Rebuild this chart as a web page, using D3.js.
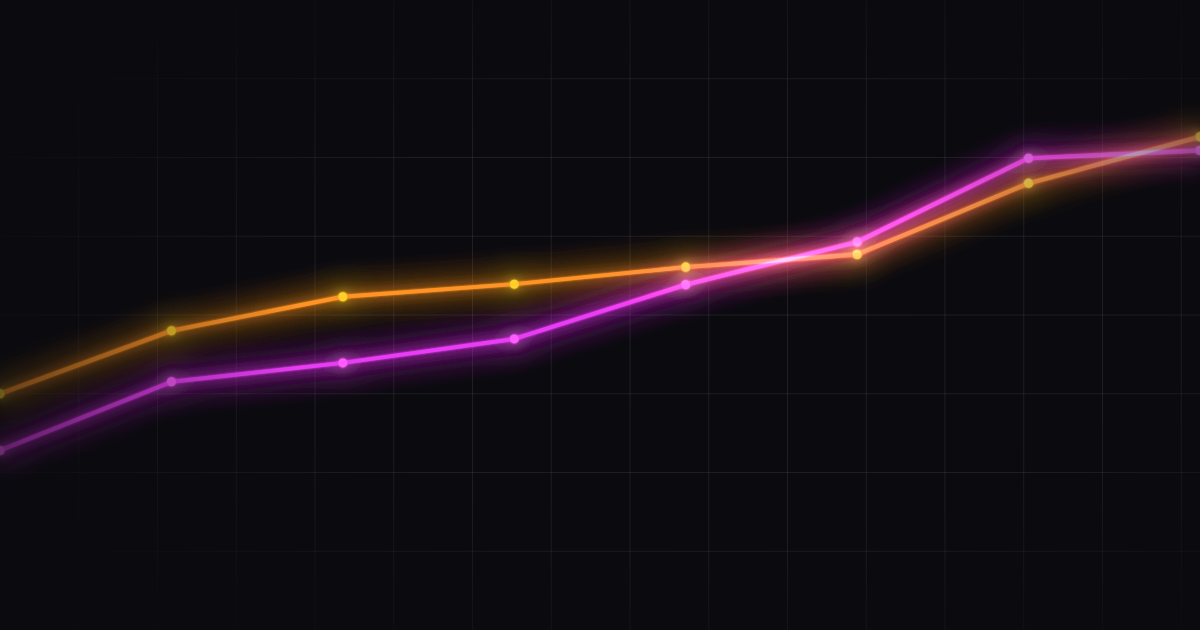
<!DOCTYPE html>
<html>
<head>
<meta charset="utf-8">
<script src="https://cdn.jsdelivr.net/npm/d3@7"></script>
<style>
  html, body { margin: 0; padding: 0; background: #0b0b0f; }
  #chart { width: 1200px; height: 630px; }
  .series { mix-blend-mode: screen; mix-blend-mode: plus-lighter; }
</style>
</head>
<body>
<div id="chart"></div>
<script>
// data
const periods = ["P1", "P2", "P3", "P4", "P5", "P6", "P7", "P8"];
const orangeValues = [37.5, 47.5, 52.9, 54.9, 57.6, 59.6, 70.9, 78.3];
const magentaValues = [28.5, 39.4, 42.4, 46.2, 54.8, 61.6, 74.9, 76.1];
const gridStep = 12.5;

const series = [
    {name: "orange", values: orangeValues, line: "#ff9328", dot: "#ffcf2a"},
    {name: "magenta", values: magentaValues, line: "#e83cf4", dot: "#ff5cff"}
];

const width = 1200, height = 630;

const svg = d3.select("#chart").append("svg")
    .attr("width", width)
    .attr("height", height);

svg.append("rect")
    .attr("width", width)
    .attr("height", height)
    .attr("fill", "#0b0b0f");

// scales
const x = d3.scalePoint()
    .domain(periods)
    .range([0, width]);

const y = d3.scaleLinear()
    .domain([0, 100])
    .range([height, 0]);

// grid spacing in px matches the y step
const cell = y(0) - y(gridStep);
const xg = d3.scaleLinear().domain([0, 1]).range([0, cell]);

const defs = svg.append("defs");

// radial fade for the grid
const gridFade = defs.append("radialGradient")
    .attr("id", "gridFade")
    .attr("cx", "60%").attr("cy", "50%").attr("r", "65%");
gridFade.append("stop").attr("offset", "0%").attr("stop-color", "#fff").attr("stop-opacity", 1);
gridFade.append("stop").attr("offset", "55%").attr("stop-color", "#fff").attr("stop-opacity", 0.9);
gridFade.append("stop").attr("offset", "100%").attr("stop-color", "#fff").attr("stop-opacity", 0.1);

defs.append("mask")
    .attr("id", "gridMask")
    .append("rect")
    .attr("width", width)
    .attr("height", height)
    .attr("fill", "url(#gridFade)");

// horizontal fade for the lines
const lineFade = defs.append("linearGradient")
    .attr("id", "lineFade")
    .attr("gradientUnits", "userSpaceOnUse")
    .attr("x1", 0).attr("y1", 0).attr("x2", width).attr("y2", 0);
[[0, 0.4], [0.25, 1], [0.75, 1], [1, 0.6]].forEach(s => {
    lineFade.append("stop")
        .attr("offset", s[0])
        .attr("stop-color", "#fff")
        .attr("stop-opacity", s[1]);
});

defs.append("mask")
    .attr("id", "lineMask")
    .attr("maskUnits", "userSpaceOnUse")
    .attr("x", -50).attr("y", -50).attr("width", width + 100).attr("height", height + 100)
    .append("rect")
    .attr("x", -50).attr("y", -50)
    .attr("width", width + 100)
    .attr("height", height + 100)
    .attr("fill", "url(#lineFade)");

// glow filter
const glow = defs.append("filter")
    .attr("id", "glow")
    .attr("filterUnits", "userSpaceOnUse")
    .attr("x", -100).attr("y", -100)
    .attr("width", width + 200).attr("height", height + 200);
glow.append("feGaussianBlur")
    .attr("in", "SourceGraphic")
    .attr("stdDeviation", 16)
    .attr("result", "wide");
glow.append("feGaussianBlur")
    .attr("in", "SourceGraphic")
    .attr("stdDeviation", 6)
    .attr("result", "mid");
glow.append("feGaussianBlur")
    .attr("in", "SourceGraphic")
    .attr("stdDeviation", 1.2)
    .attr("result", "narrow");
const merge = glow.append("feMerge");
merge.append("feMergeNode").attr("in", "wide");
merge.append("feMergeNode").attr("in", "wide");
merge.append("feMergeNode").attr("in", "wide");
merge.append("feMergeNode").attr("in", "mid");
merge.append("feMergeNode").attr("in", "narrow");
merge.append("feMergeNode").attr("in", "SourceGraphic");

// grid
const grid = svg.append("g")
    .attr("class", "grid")
    .attr("mask", "url(#gridMask)");

const nCols = Math.floor(width / cell);
grid.selectAll(".v")
    .data(d3.range(1, nCols + 1))
    .enter()
    .append("line")
    .attr("class", "v")
    .attr("x1", d => xg(d)).attr("x2", d => xg(d))
    .attr("y1", 0).attr("y2", height)
    .attr("stroke", "#ffffff")
    .attr("stroke-opacity", 0.085);

grid.selectAll(".h")
    .data(d3.range(gridStep, 100, gridStep))
    .enter()
    .append("line")
    .attr("class", "h")
    .attr("x1", 0).attr("x2", width)
    .attr("y1", d => y(d)).attr("y2", d => y(d))
    .attr("stroke", "#ffffff")
    .attr("stroke-opacity", 0.085);

// lines
const line = d3.line()
    .x((d, i) => x(periods[i]))
    .y(d => y(d));

const plot = svg.append("g")
    .attr("mask", "url(#lineMask)");

const groups = plot.selectAll(".series")
    .data(series)
    .enter()
    .append("g")
    .attr("class", "series")
    .attr("filter", "url(#glow)");

groups.append("path")
    .attr("d", d => line(d.values))
    .attr("fill", "none")
    .attr("stroke", d => d.line)
    .attr("stroke-width", 4)
    .attr("stroke-linejoin", "round");

groups.selectAll("circle")
    .data(d => d.values.map(v => ({v: v, color: d.dot})))
    .enter()
    .append("circle")
    .attr("cx", (d, i) => x(periods[i]))
    .attr("cy", d => y(d.v))
    .attr("r", 4.5)
    .attr("fill", d => d.color);
</script>
</body>
</html>
